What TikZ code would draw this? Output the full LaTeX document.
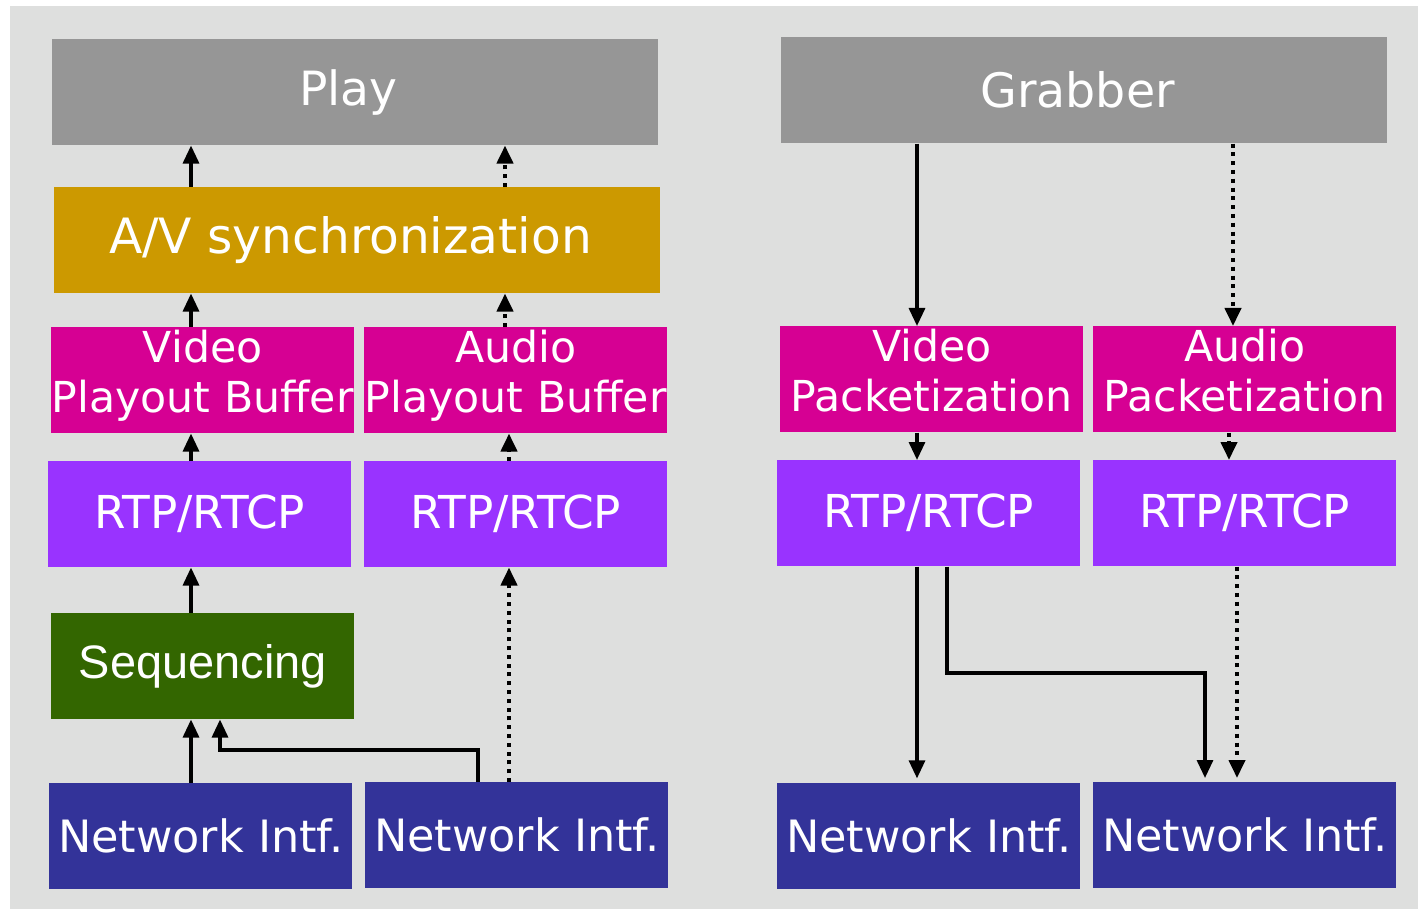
\documentclass[tikz,border=0pt]{standalone}
\usepackage{fontspec}
\setmainfont{DejaVu Sans}
\newfontfamily\arialf{Liberation Sans}
\usetikzlibrary{arrows.meta}
\definecolor{bgc}{HTML}{DEDFDE}
\definecolor{grayc}{HTML}{969696}
\definecolor{goldc}{HTML}{CC9900}
\definecolor{magc}{HTML}{D60093}
\definecolor{purc}{HTML}{9933FF}
\definecolor{grnc}{HTML}{336600}
\definecolor{navc}{HTML}{333399}
\begin{document}
\begin{tikzpicture}[x=0.75pt,y=-0.75pt,
  blk/.style={rectangle, inner sep=0pt, anchor=north west, text=white, align=center, minimum height=79.5pt},
  wide/.style={blk, minimum width=454.5pt},
  half/.style={blk, minimum width=227.25pt},
  twoline/.style={font=\fontsize{32}{37.5}\selectfont, text depth=13pt},
  rtp/.style={font=\fontsize{34}{40}\selectfont},
  net/.style={font=\fontsize{33.4}{40}\selectfont},
  wtxt/.style={font=\fontsize{35.4}{40}\selectfont},
  arr/.style={line width=2.4pt, -{Triangle[length=13.5pt,width=12pt]}},
  dotarr/.style={arr, line width=3pt, dash pattern=on 3pt off 3.6pt}]
\useasboundingbox (0,0) rectangle (1418,909);
\fill[bgc] (10,6) rectangle (1418,909);
% left side
\node[wide, fill=grayc, wtxt] (play) at (52,39) {\hspace*{-10pt}Play};
\node[wide, fill=goldc, font=\fontsize{36.5}{42}\selectfont] (av) at (54,187) {A/V synchronization\hspace*{10pt}};
\node[half, fill=magc, twoline] (vpb) at (51,327) {Video\\Playout Buffer};
\node[half, fill=magc, twoline] (apb) at (364,327) {Audio\\Playout Buffer};
\node[half, fill=purc, rtp] (rl1) at (48,461) {RTP/RTCP};
\node[half, fill=purc, rtp] (rl2) at (364,461) {RTP/RTCP};
\node[half, fill=grnc, font=\arialf\fontsize{35.2}{40}\selectfont] (seq) at (51,613) {Sequencing};
\node[half, fill=navc, net] (nl1) at (49,783) {Network Intf.};
\node[half, fill=navc, net] (nl2) at (365,782) {Network Intf.};
% right side
\node[wide, fill=grayc, font=\fontsize{35.6}{40}\selectfont] (grab) at (781,37) {Grabber\hspace*{10pt}};
\node[half, fill=magc, twoline] (vp) at (780,326) {Video\\Packetization};
\node[half, fill=magc, twoline] (ap) at (1093,326) {Audio\\Packetization};
\node[half, fill=purc, rtp] (rr1) at (777,460) {RTP/RTCP};
\node[half, fill=purc, rtp] (rr2) at (1093,460) {RTP/RTCP};
\node[half, fill=navc, net] (nr1) at (777,783) {Network Intf.};
\node[half, fill=navc, net] (nr2) at (1093,782) {Network Intf.};
% guide coordinates
\coordinate (xa) at (191,0);
\coordinate (xb) at (505,0);
\coordinate (xc) at (509,0);
\coordinate (xh) at (478,0);
\coordinate (ca) at (220,750);
\coordinate (xd) at (917,0);
\coordinate (xe) at (1233,0);
\coordinate (xf) at (1229,0);
\coordinate (xg) at (1237,0);
\coordinate (xi) at (947,0);
\coordinate (cb) at (1205,673);
% left connectors
\draw[arr] (av.north -| xa) -- (play.south -| xa);
\draw[dotarr] (av.north -| xb) -- (play.south -| xb);
\draw[arr] (vpb.north -| xa) -- (av.south -| xa);
\draw[dotarr] (apb.north -| xb) -- (av.south -| xb);
\draw[arr] (rl1.north -| xa) -- (vpb.south -| xa);
\draw[dotarr] (rl2.north -| xc) -- (apb.south -| xc);
\draw[arr] (seq.north -| xa) -- (rl1.south -| xa);
\draw[arr] (nl1.north -| xa) -- (seq.south -| xa);
\draw[dotarr] (nl2.north -| xc) -- (rl2.south -| xc);
\draw[arr] (nl2.north -| xh) |- (ca) -- (ca |- seq.south);
% right connectors
\draw[arr] (grab.south -| xd) -- (vp.north -| xd);
\draw[dotarr] (grab.south -| xe) -- (ap.north -| xe);
\draw[arr] (vp.south -| xd) -- (rr1.north -| xd);
\draw[dotarr] (ap.south -| xf) -- (rr2.north -| xf);
\draw[arr, shorten >=3.5pt] (rr1.south -| xd) -- (nr1.north -| xd);
\draw[arr, shorten >=3pt] (rr1.south -| xi) |- (cb) -- (cb |- nr2.north);
\draw[dotarr, shorten >=3pt] (rr2.south -| xg) -- (nr2.north -| xg);
\end{tikzpicture}
\end{document}
